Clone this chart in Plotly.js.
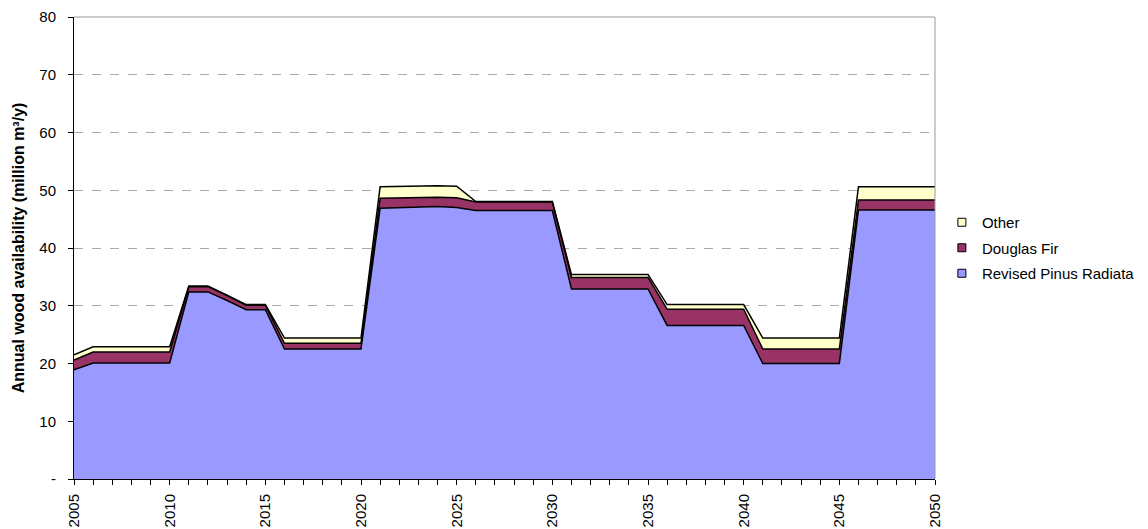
<!DOCTYPE html>
<html>
<head>
<meta charset="utf-8">
<script src="https://cdn.plot.ly/plotly-3.0.1.min.js"></script>
<style>html,body{margin:0;padding:0;background:#fff;}#chart{width:1148px;height:529px;}</style>
</head>
<body>
<div id="chart"></div>
<script>
const years = [];
for (let y = 2005; y <= 2050; y++) years.push(y);

const pinusRadiata = [18.9, 20.1, 20.1, 20.1, 20.1, 20.1,
  32.4, 32.4, 30.9, 29.3, 29.3,
  22.5, 22.5, 22.5, 22.5, 22.5,
  46.9, 47.0, 47.2, 47.2, 47.0,
  46.5, 46.5, 46.5, 46.5, 46.5,
  32.9, 32.9, 32.9, 32.9, 32.9,
  26.6, 26.6, 26.6, 26.6, 26.6,
  20.0, 20.0, 20.0, 20.0, 20.0,
  46.6, 46.6, 46.6, 46.6, 46.6];
const douglasFir = [1.7, 1.9, 1.9, 1.9, 1.9, 1.9,
  0.9, 0.9, 0.85, 0.8, 0.8,
  1.0, 1.0, 1.0, 1.0, 1.0,
  1.7, 1.7, 1.6, 1.6, 1.7,
  1.45, 1.45, 1.45, 1.45, 1.45,
  2.0, 2.0, 2.0, 2.0, 2.0,
  2.8, 2.8, 2.8, 2.8, 2.8,
  2.5, 2.5, 2.5, 2.5, 2.5,
  1.7, 1.7, 1.7, 1.7, 1.7];
const other = [0.9, 0.9, 0.9, 0.9, 0.9, 0.9,
  0.1, 0.1, 0.1, 0.1, 0.1,
  0.9, 0.9, 0.9, 0.9, 0.9,
  2.0, 2.0, 2.0, 2.0, 2.0,
  0.1, 0.1, 0.1, 0.1, 0.1,
  0.5, 0.5, 0.5, 0.5, 0.5,
  0.8, 0.8, 0.8, 0.8, 0.8,
  1.9, 1.9, 1.9, 1.9, 1.9,
  2.3, 2.3, 2.3, 2.3, 2.3];

const seriesNames = ['Revised Pinus Radiata', 'Douglas Fir', 'Other'];
const seriesColors = ['#9999FF', '#993366', '#FFFFCC'];
const seriesValues = [pinusRadiata, douglasFir, other];

const yTickVals = [0, 10, 20, 30, 40, 50, 60, 70, 80];
const yTickText = ['-', '10', '20', '30', '40', '50', '60', '70', '80'];
const xTickText = years.map(y => (y % 5 === 0 ? String(y) : ''));

const FONT = 'Liberation Sans, Arial, sans-serif';

const areaTraces = seriesNames.map((n, i) => ({
  x: years,
  y: seriesValues[i],
  name: n,
  type: 'scatter',
  mode: 'lines',
  stackgroup: 'one',
  fillcolor: seriesColors[i],
  line: {color: '#000000', width: 1.5, shape: 'linear'},
  showlegend: false,
  hoverinfo: 'x+y+name'
}));

// legend-only entries with square swatches (top series first)
const legendTraces = seriesNames.map((n, i) => ({
  x: [null], y: [null],
  name: n,
  type: 'scatter',
  mode: 'markers',
  legendgroup: 'g' + i,
  legendrank: 10 - i,
  marker: {symbol: 'square', size: 8, color: seriesColors[i], line: {color: '#000', width: 1}},
  showlegend: true,
  hoverinfo: 'skip'
}));

const layout = {
  width: 1148, height: 529,
  margin: {l: 74, r: 213, t: 17, b: 50, autoexpand: false},
  paper_bgcolor: '#fff', plot_bgcolor: '#fff',
  font: {family: FONT, size: 15, color: '#000'},
  showlegend: true,
  legend: {x: 1.008, y: 0.5, xanchor: 'left', yanchor: 'middle', traceorder: 'grouped',
    font: {family: FONT, size: 15, color: '#000'},
    itemwidth: 30, tracegroupgap: 3, bgcolor: 'rgba(0,0,0,0)'},
  xaxis: {
    range: [2005, 2050], tickmode: 'array', tickvals: years, ticktext: xTickText,
    tickangle: -90, ticks: 'outside', ticklen: 5, tickcolor: '#000', ticklabelstandoff: 3,
    showline: true, linecolor: '#000', linewidth: 1, showgrid: false, zeroline: false,
    tickfont: {family: FONT, size: 15, color: '#000'}
  },
  yaxis: {
    range: [0, 80], tickmode: 'array', tickvals: yTickVals, ticktext: yTickText,
    ticks: 'outside', ticklen: 5, tickcolor: '#000', ticklabelstandoff: 9,
    showline: true, linecolor: '#000', linewidth: 1,
    showgrid: true, gridcolor: '#aaaaaa', griddash: 'dash', gridwidth: 1, zeroline: false,
    tickfont: {family: FONT, size: 15, color: '#000'},
    title: {text: '<b>Annual wood availability (million m³/y)</b>', standoff: 10,
      font: {family: FONT, size: 16, color: '#000'}}
  },
  shapes: [
    {type: 'line', xref: 'paper', yref: 'paper', x0: 0, x1: 1, y0: 1, y1: 1, line: {color: '#999', width: 1}},
    {type: 'line', xref: 'paper', yref: 'paper', x0: 1, x1: 1, y0: 0, y1: 1, line: {color: '#999', width: 1}}
  ]
};

Plotly.newPlot('chart', areaTraces.concat(legendTraces), layout, {displayModeBar: false, staticPlot: true});
</script>
</body>
</html>
